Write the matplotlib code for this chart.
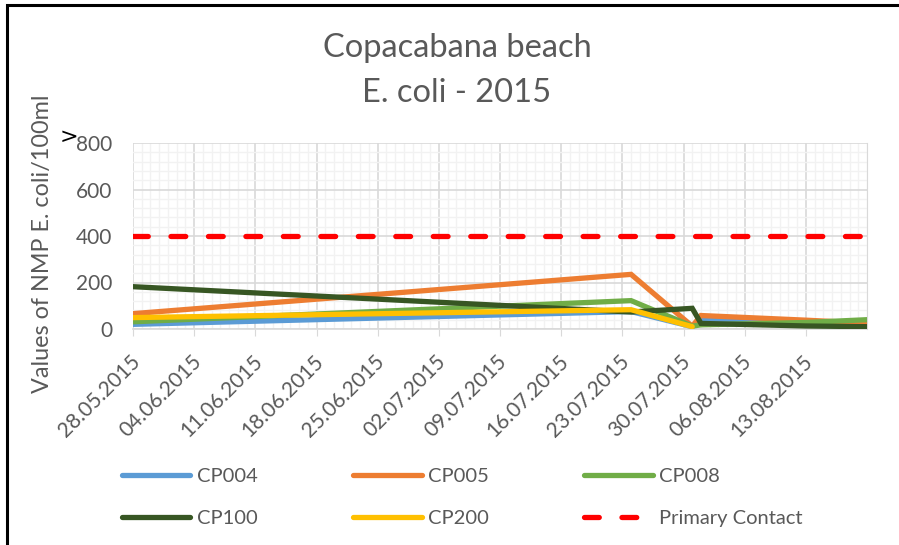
import matplotlib
matplotlib.use("Agg")
import matplotlib.pyplot as plt
import matplotlib.dates as mdates
import matplotlib.transforms as mtransforms
from matplotlib.ticker import MultipleLocator, FixedLocator
from matplotlib.patches import Rectangle
import numpy as np
from datetime import datetime

plt.rcParams['font.family'] = ['Lato', 'DejaVu Sans']

dates = ["28.05.2015", "24.07.2015", "31.07.2015", "01.08.2015", "13.08.2015", "20.08.2015"]
nan = np.nan
cp004 = [20, 75, 10, 40, 20, 15]
cp005 = [66, 235, 12, 58, 38, 25]
cp008 = [31, 122, 12, 18, 28, 40]
cp100 = [182, 73, 89, 24, 13, 10]
cp200 = [49, 83, 10, nan, nan, nan]
primary_contact = 400

tick_labels = ["28.05.2015", "04.06.2015", "11.06.2015", "18.06.2015", "25.06.2015",
               "02.07.2015", "09.07.2015", "16.07.2015", "23.07.2015", "30.07.2015",
               "06.08.2015", "13.08.2015"]
x_end = "20.08.2015"
yticks = [0, 200, 400, 600, 800]

series = [("CP004", cp004, "#5B9BD5"), ("CP005", cp005, "#ED7D31"),
          ("CP008", cp008, "#70AD47"), ("CP100", cp100, "#375623"),
          ("CP200", cp200, "#FFC000")]

def d(s):
    return datetime.strptime(s, "%d.%m.%Y")

xd = [d(s) for s in dates]
W, H = 899, 545
fig = plt.figure(figsize=(W / 100, H / 100), dpi=100)
ax = fig.add_axes([133 / W, 1 - 329 / H, (867 - 133) / W, (329 - 143) / H])

handles = []
for name, vals, col in series:
    h, = ax.plot(xd, vals, color=col, lw=3.8, solid_capstyle='round',
                 solid_joinstyle='miter', label=name, zorder=3)
    handles.append(h)
x0, x1 = d(tick_labels[0]), d(x_end)
h, = ax.plot([x0, x1], [primary_contact, primary_contact], color="#FF0000", lw=3.8,
             dashes=(2.8, 4.3), dash_capstyle='round', label="Primary Contact", zorder=3)
handles.append(h)

ax.set_xlim(x0, x1)
ax.set_ylim(0, 800)
tick_pos = [mdates.date2num(d(t)) for t in tick_labels]
ax.xaxis.set_major_locator(FixedLocator(tick_pos))
ax.xaxis.set_major_formatter(plt.NullFormatter())
lab_tr = ax.get_xaxis_transform() + mtransforms.ScaledTranslation(4 / 100, -29 / 100,
                                                                   fig.dpi_scale_trans)
for xp, t in zip(tick_pos, tick_labels):
    ax.text(xp, 0, t, transform=lab_tr, rotation=45, ha='right', va='center',
            rotation_mode='anchor', fontsize=15, color='#595959', clip_on=False)
ax.xaxis.set_minor_locator(mdates.DayLocator())
ax.set_yticks(yticks)
ax.yaxis.set_minor_locator(MultipleLocator(40))
ax.grid(which='major', color='#D9D9D9', lw=1.2, zorder=1)
ax.grid(which='minor', color='#F2F2F2', lw=1.0, zorder=0)
ax.set_axisbelow(True)
for s in ['top', 'left']:
    ax.spines[s].set_visible(False)
ax.spines['right'].set_color('#D9D9D9')
ax.spines['bottom'].set_color('#D9D9D9')
ax.spines['bottom'].set_linewidth(1.2)
ax.tick_params(axis='x', which='major', length=5, color='#D9D9D9')
ax.tick_params(axis='x', which='minor', length=0)
ax.tick_params(axis='y', which='both', length=0, labelsize=15, labelcolor='#595959', pad=15)

fig.text(43 / W, 1 - 244 / H, "Values of NMP E. coli/100ml", rotation=90, ha='center',
         va='center', fontsize=16.8, color='#595959')
fig.text(457 / W, 1 - 48 / H, "Copacabana beach", ha='center', va='center', fontsize=23.5,
         color='#595959')
fig.text(457 / W, 1 - 93 / H, "E. coli - 2015", ha='center', va='center', fontsize=23.5,
         color='#595959')
fig.text(69 / W, 1 - 137 / H, ">", ha='center', va='center', fontsize=16, color='black',
         family=['DejaVu Sans'])

order = [0, 3, 1, 4, 2, 5]
leg = fig.legend(handles=[handles[i] for i in order], loc='center left', ncol=3,
                 bbox_to_anchor=(122 / W, 1 - 497.5 / H), borderpad=0, borderaxespad=0,
                 frameon=False, fontsize=14.5, handlelength=3.4, columnspacing=4.75,
                 handletextpad=0.3, labelspacing=1.26)
for t in leg.get_texts():
    t.set_color('#595959')

fig.patches.append(Rectangle((7 / W, -0.1), 1.2, 1 - 5 / H + 0.1, transform=fig.transFigure,
                             fill=False, edgecolor='black', lw=2.2))

fig.savefig("out.png", dpi=100)
